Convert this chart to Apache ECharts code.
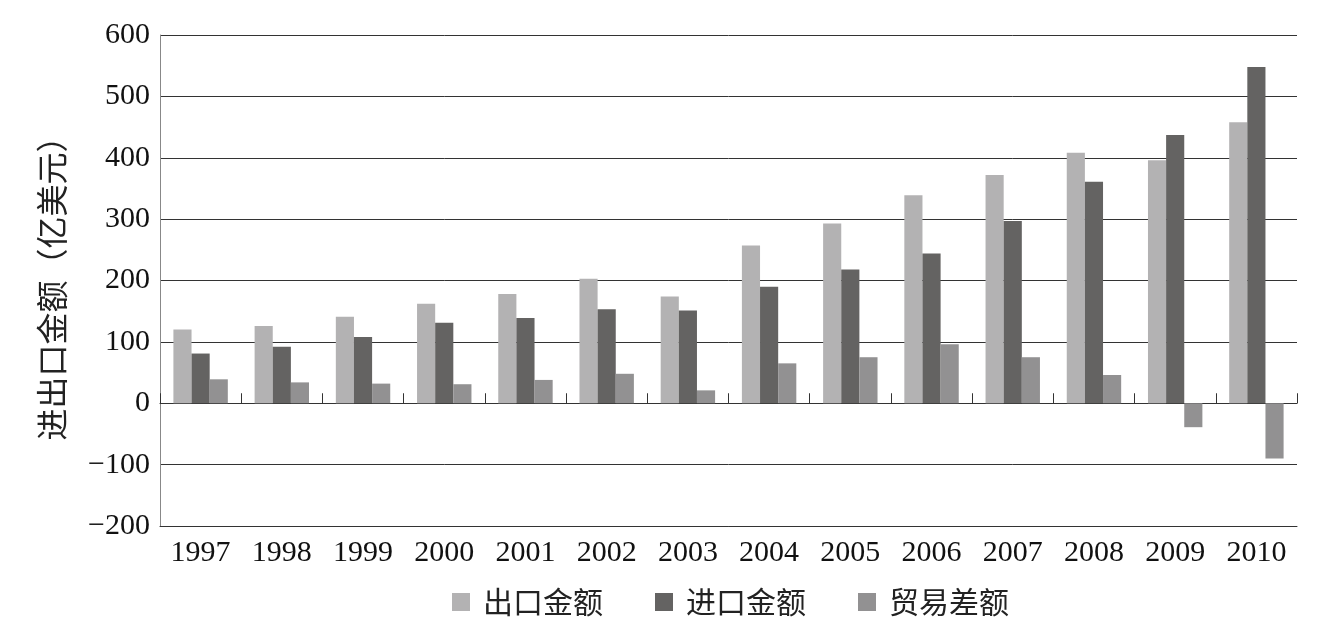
<!DOCTYPE html>
<html><head><meta charset="utf-8">
<script src="https://cdn.jsdelivr.net/npm/echarts@6/dist/echarts.min.js"></script>
<style>html,body{margin:0;padding:0;background:#fff}#c{width:1321px;height:632px}</style>
</head><body><div id="c"></div>
<script>
const years = ['1997','1998','1999','2000','2001','2002','2003','2004','2005','2006','2007','2008','2009','2010'];
const exportVals = [120,126,141,162,178,203,174,257,293,339,372,408,396,458];
const importVals = [81,92,108,131,139,153,151,190,218,244,297,361,437,548];
const balanceVals = [39,34,32,31,38,48,21,65,75,96,75,46,-39,-90];
const seriesNames = ['出口金额','进口金额','贸易差额'];
const yTicks = {min:-200, max:600, interval:100};

const serif = '"Liberation Serif","DejaVu Serif",serif';
const cjk = '"Noto Sans CJK SC","Noto Sans",sans-serif';
const chart = echarts.init(document.getElementById('c'));
chart.setOption({
  animation:false,
  color:['#b3b2b3','#646362','#929192'],
  grid:{left:160,right:24,top:35,bottom:106,containLabel:false},
  legend:{
    data:seriesNames, top:582, left:447, itemWidth:18, itemHeight:18, itemGap:52,
    icon:'rect',
    textStyle:{fontFamily:cjk, fontSize:30, color:'#222', padding:[0,0,0,8]}
  },
  xAxis:[{
    type:'category', data:years, position:'bottom',
    axisLine:{onZero:false, lineStyle:{color:'#333', width:1}},
    axisTick:{show:false},
    axisLabel:{fontFamily:serif, fontSize:30, color:'#111', margin:12},
  },{
    type:'category', data:years, position:'bottom',
    axisLine:{onZero:true, show:true, lineStyle:{color:'#333', width:1}},
    axisTick:{show:true, inside:true, length:10, lineStyle:{color:'#333'}},
    axisLabel:{show:false}
  }],
  yAxis:{
    type:'value', min:yTicks.min, max:yTicks.max, interval:yTicks.interval,
    name:'进出口金额（亿美元）', nameLocation:'middle', nameRotate:90, nameGap:92,
    nameTextStyle:{fontFamily:cjk, fontSize:32, color:'#222'},
    axisLine:{show:true, lineStyle:{color:'#888', width:1}},
    axisTick:{show:false},
    axisLabel:{fontFamily:serif, fontSize:30, color:'#111', margin:10,
      formatter:v=> v<0 ? '\u2212'+Math.abs(v) : String(v)},
    splitLine:{lineStyle:{color:'#333', width:1}}
  },
  series:[
    {name:seriesNames[0], type:'bar', data:exportVals, barGap:'0%', barCategoryGap:'33%'},
    {name:seriesNames[1], type:'bar', data:importVals, barGap:'0%', barCategoryGap:'33%'},
    {name:seriesNames[2], type:'bar', data:balanceVals, barGap:'0%', barCategoryGap:'33%'}
  ]
});
</script></body></html>
